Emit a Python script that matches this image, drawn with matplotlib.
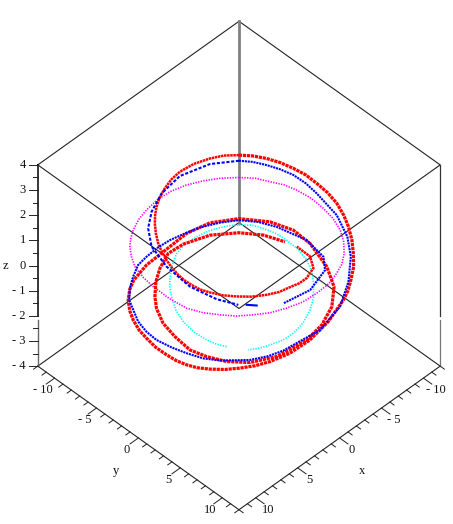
import matplotlib
matplotlib.use("Agg")
import matplotlib.pyplot as plt
from mpl_toolkits.mplot3d import proj3d

plt.rcParams["font.family"] = ["Liberation Serif", "DejaVu Serif"]

# curves
red_outer_x = [-6.07, -6.82, -7.44, -7.90, -8.21, -8.40, -8.56, -8.64, -8.51, -8.15, -7.67, -7.08, -6.37, -5.69, -4.84, -4.08,
               -3.36, -1.28, 0.94, 2.82, 4.49, 5.32, 6.41, 7.42, 8.29, 8.93, 9.32, 9.58, 9.68, 9.70, 9.49, 9.25, 8.76, 8.19,
               7.39, 6.41, 5.39, 3.38, 1.27, -1.66, -3.94, -6.02, -7.60, -8.30, -8.18, -7.24, -6.00, -4.20, -2.08, 0.08,
               3.25, 5.35, 6.66, 7.44, 7.88, 7.66, 7.25, 6.40, 5.52, 4.21, 2.86, 1.12, -0.56, -2.90, -4.84, -6.10, -6.83]
red_outer_y = [-6.07, -5.19, -4.14, -3.00, -1.72, -0.43, 0.72, 1.92, 3.16, 4.33, 5.39, 6.39, 7.27, 7.99, 8.51, 8.92,
               9.10, 9.38, 9.40, 8.89, 8.20, 7.23, 6.53, 5.75, 4.82, 3.95, 3.07, 2.13, 1.04, -0.22, -1.54, -2.66, -3.86, -4.84,
               -5.83, -6.62, -7.16, -7.66, -7.76, -7.91, -7.40, -6.02, -3.90, -1.81, 0.30, 3.24, 5.34, 6.88, 7.80, 8.16,
               7.75, 6.66, 5.18, 3.58, 2.03, 0.01, -1.80, -3.44, -4.51, -5.70, -6.58, -7.33, -7.21, -6.37, -4.84, -3.19, -1.33]
red_outer_z = [1.5, 1.5, 1.5, 1.5, 1.5, 1.5, 1.4, 1.3, 1.2, 1.1, 1.0, 0.85, 0.7, 0.5, 0.3, 0.15, 0.0, -0.3, -0.5, -0.7, -0.8] + [-1.0] * 46

red_upper_x = [-6.07, -5.14, -4.06, -2.65, -1.16, -0.03, 1.13, 2.17, 3.16, 3.93, 4.64, 5.42, 6.11, 6.62, 7.01, 7.34, 7.56, 7.64,
               7.60, 7.48, 7.14, 6.58, 5.88, 5.00, 3.95, 2.98, 1.92, 1.06, 0.17, -1.07, -1.84, -1.88]
red_upper_y = [-6.07, -6.93, -7.52, -8.03, -8.21, -8.08, -7.72, -7.27, -6.68, -6.07, -5.40, -4.50, -3.53, -2.58, -1.64, -0.68, 0.31, 1.15,
               1.94, 2.82, 3.67, 4.71, 5.60, 6.51, 7.25, 7.76, 8.00, 8.23, 8.24, 7.81, 6.64, 5.02]
red_upper_z = [1.5] * len(red_upper_x)

blue_outer_x = [-5.60, -6.32, -6.89, -7.34, -7.66, -7.70, -7.93, -7.94, -7.40, -6.78, -5.18, -3.23, -0.50, 2.99, 3.71, 5.14, 6.97,
                7.79, 8.35, 8.76, 9.04, 8.95, 8.60, 7.33, 6.32, 5.15, 3.88, 2.69, 1.20, -0.10, -1.57, -2.95, -4.55, -5.89, -6.89,
                -7.58, -8.26, -7.87, -6.85, -4.30, -1.60]
blue_outer_y = [-5.60, -4.69, -3.59, -2.44, -1.16, 0.26, 1.34, 3.72, 5.53, 6.56, 7.88, 8.83, 9.17, 8.28, 7.22, 6.44, 4.70,
                3.53, 2.10, 0.72, -0.80, -2.08, -3.43, -5.77, -6.70, -7.48, -8.16, -8.35, -8.44, -8.34, -8.01, -7.61, -6.82, -5.89, -4.58,
                -3.08, -0.18, 2.21, 3.42, 4.19, 3.71]
blue_outer_z = [1.5, 1.5, 1.5, 1.5, 1.5, 1.5, 1.3, 1.0, 0.7, 0.3, 0.0, -0.3, -0.5, -0.7] + [-1.0] * 27

blue_upper_x = [-5.60, -3.59, -0.80, 1.74, 3.86, 5.46, 6.78, 7.56, 7.84, 7.30, 6.48]
blue_upper_y = [-5.60, -7.06, -7.85, -7.49, -6.56, -5.38, -3.65, -1.09, 1.98, 4.63, 6.40]
blue_upper_z = [1.5] * 11

blue_bit_x = [5.98, 5.44]
blue_bit_y = [6.89, 7.55]
blue_bit_z = [1.5, 1.5]

magenta_x = [-5.78, -6.67, -7.27, -7.85, -8.17, -8.35, -8.23, -7.97, -7.43, -6.66, -5.72, -4.69, -3.61, -2.22, -0.76, 0.82, 2.29, 3.67, 4.84,
             5.94, 6.83, 7.65, 8.27, 8.49, 8.45, 8.28, 7.87, 7.25, 6.50, 5.76, 4.92, 3.69, 2.46, 0.98, -0.47, -1.97, -3.37, -4.62, -5.78]
magenta_y = [-5.78, -4.76, -3.58, -2.47, -1.28, 0.27, 1.84, 3.23, 4.64, 5.82, 6.83, 7.59, 8.05, 8.46, 8.53, 8.43, 7.98, 7.38, 6.55,
             5.66, 4.56, 3.39, 2.02, 0.16, -1.79, -3.15, -4.55, -5.58, -6.52, -7.15, -7.70, -8.26, -8.58, -8.78, -8.71, -8.30, -7.63, -6.81, -5.78]
magenta_z = [0.75] * len(magenta_x)

cyan_right_x = [-5.20, -5.97, -6.37, -6.71, -6.79, -6.71, -6.31, -5.71, -4.78, -3.61, -2.35, -0.92, 0.59, 1.80, 2.96, 3.86, 4.67]
cyan_right_y = [-5.20, -4.45, -3.47, -2.33, -1.10, 0.30, 1.76, 2.98, 4.12, 5.28, 6.13, 6.77, 7.08, 7.02, 6.66, 6.29, 5.78]
cyan_right_z = [-0.87] * len(cyan_right_x)

cyan_left_x = [5.69, 6.08, 6.32, 6.40, 6.19, 5.66, 4.80, 4.21, 3.52, 2.22, 0.89, -0.40, -1.69, -2.81, -3.86, -4.58, -5.20]
cyan_left_y = [4.21, 3.41, 2.46, 1.02, -0.47, -1.87, -3.24, -4.04, -4.74, -5.79, -6.55, -6.85, -6.74, -6.56, -6.13, -5.74, -5.20]
cyan_left_z = [-0.87] * len(cyan_left_x)

# axis ranges and tick labels
xy_lim = 12
z_lim = 4
xy_ticks = [-10, -5, 0, 5, 10]
z_ticks = [-4, -3, -2, -1, 0, 1, 2, 3, 4]


def tick_text(value):
    # the original writes negatives with a spaced hyphen
    return f"- {abs(value)}" if value < 0 else str(value)


fig = plt.figure(figsize=(4.53, 5.24), dpi=100)
ax = fig.add_axes([-7.5 / 453, 12 / 524, 480 / 453, 480 / 524], projection="3d", proj_type="ortho", computed_zorder=False)
ax.view_init(elev=45.55, azim=45)
ax.set_box_aspect((1, 1, 1.01))
ax.set_xlim(-xy_lim, xy_lim, view_margin=0)
ax.set_ylim(-xy_lim, xy_lim, view_margin=0)
ax.set_zlim(-z_lim, z_lim, view_margin=0)
ax.set_axis_off()
ax.patch.set_alpha(0)


def label(x, y, z, text, ha):
    # flat text placed at the projected 3d point
    px, py, _ = proj3d.proj_transform(x, y, z, ax.get_proj())
    ax.text2D(px, py, text, transform=ax.transData, ha=ha, va="center", fontsize=9, color="#111111")


edge = dict(color="#222222", lw=0.8, zorder=1)
L, Z = xy_lim, z_lim

# top and bottom of the box
ax.plot([L, -L, -L, L, L], [-L, -L, L, L, -L], [Z] * 5, **edge)
ax.plot([L, -L, -L, L, L], [-L, -L, L, L, -L], [-Z] * 5, **edge)

# vertical edges, these have a small break near z = -2
ax.plot([-L, -L], [-L, -L], [-Z, Z], color="#808080", lw=2, zorder=1)
ax.plot([L, L], [-L, -L], [-2.02, Z], color="black", lw=1.1, zorder=1)
ax.plot([L, L], [-L, -L], [-Z, -2.16], color="#666666", lw=1, zorder=1)
ax.plot([-L, -L], [L, L], [-2.02, Z], color="#333333", lw=0.9, zorder=1)
ax.plot([-L, -L], [L, L], [-Z, -2.16], color="#777777", lw=0.9, zorder=1)

# tick marks
tick = dict(color="#222222", lw=0.7, zorder=1)
for t in range(-xy_lim, xy_lim + 1):
    d = 1.0 if t % 5 == 0 else 0.5
    ax.plot([L, L + d], [t, t], [-Z, -Z], **tick)
    ax.plot([t, t], [L, L + d], [-Z, -Z], **tick)
for i in range(-2 * z_lim, 2 * z_lim + 1):
    d = 0.54 if i % 2 == 0 else 0.3
    ax.plot([L, L + d], [-L, -L - d], [i / 2, i / 2], **tick)

# tick labels
for t in xy_ticks:
    label(13.75, t + 0.3, -Z, tick_text(t), "center")
    label(t + 0.3, 13.75, -Z, tick_text(t), "center")
for t in z_ticks:
    label(L + 0.72, -L - 0.72, t, tick_text(t), "right")

label(1.42, 16.1, -Z, "x", "center")
label(16.1, 1.42, -Z, "y", "center")
label(13.91, -13.91, 0, "z", "center")

# curves
thin = dict(lw=1.2, ls=(0, (0.8, 0.8)), zorder=2)
ax.plot(cyan_right_x, cyan_right_y, cyan_right_z, color="#00FFFF", **thin)
ax.plot(cyan_left_x, cyan_left_y, cyan_left_z, color="#00FFFF", **thin)
ax.plot(magenta_x, magenta_y, magenta_z, color="#FF00FF", **thin)

ax.plot(red_outer_x, red_outer_y, red_outer_z, color="#FF0000", lw=2.3, ls=(0, (1, 0.25)), zorder=3)
ax.plot(red_upper_x, red_upper_y, red_upper_z, color="#FF0000", lw=1.8, ls=(0, (1, 0.25)), zorder=3)
ax.plot(blue_outer_x, blue_outer_y, blue_outer_z, color="#0000FF", lw=1.5, ls=(0, (1, 0.4)), zorder=4)
ax.plot(blue_upper_x, blue_upper_y, blue_upper_z, color="#0000FF", lw=1.5, ls=(0, (1.5, 0.8)), zorder=4)
ax.plot(blue_bit_x, blue_bit_y, blue_bit_z, color="#0000FF", lw=1.5, zorder=4)

# the box reaches past the square axes area
for line in ax.lines:
    line.set_clip_on(False)

plt.savefig("out.png", dpi=100)
plt.close()
